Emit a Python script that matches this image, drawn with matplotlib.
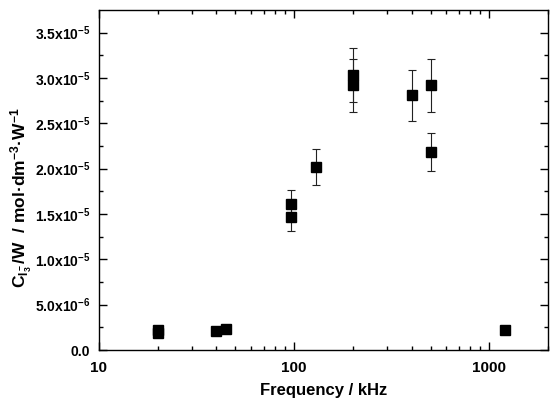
import numpy as np
import matplotlib
matplotlib.use("Agg")
import matplotlib.pyplot as plt
from matplotlib.ticker import FixedLocator, LogLocator, NullFormatter, FuncFormatter

# data (frequency in kHz, concentration per watt)
freq = [20, 20, 40, 45, 96, 96, 130, 200, 200, 400, 500, 500, 1200]
conc = [2.2e-6, 1.9e-6, 2.1e-6, 2.3e-6, 1.61e-5, 1.47e-5, 2.02e-5,
        3.03e-5, 2.92e-5, 2.81e-5, 2.92e-5, 2.18e-5, 2.2e-6]
err = [0, 0, 0, 0, 0.15e-5, 0.16e-5, 0.20e-5,
       0.30e-5, 0.29e-5, 0.28e-5, 0.29e-5, 0.21e-5, 0]

yticks = [0, 5e-6, 1e-5, 1.5e-5, 2e-5, 2.5e-5, 3e-5, 3.5e-5]
ytick_labels = ["0.0", r"5.0x10$^{-6}$", r"1.0x10$^{-5}$", r"1.5x10$^{-5}$",
                r"2.0x10$^{-5}$", r"2.5x10$^{-5}$", r"3.0x10$^{-5}$",
                r"3.5x10$^{-5}$"]

plt.rcParams["font.family"] = "Liberation Sans"
plt.rcParams["font.weight"] = "bold"
plt.rcParams["mathtext.fontset"] = "custom"
plt.rcParams["mathtext.rm"] = "Liberation Sans:bold"
plt.rcParams["mathtext.it"] = "Liberation Sans:bold"
plt.rcParams["mathtext.bf"] = "Liberation Sans:bold"
plt.rcParams["mathtext.default"] = "regular"

fig = plt.figure(figsize=(5.52, 4.0), dpi=100)
ax = fig.add_axes([0.179, 0.125, 0.814, 0.85])

for f, c, e in zip(freq, conc, err):
    if e > 0:
        ax.errorbar(f, c, yerr=e, fmt="none", ecolor="#222222",
                    elinewidth=0.8, capsize=3, capthick=0.8)
ax.plot(freq, conc, "s", color="black", markersize=7.3, zorder=3)

ax.set_xscale("log")
ax.set_xlim(10, 2000)
ax.set_ylim(0, 3.75e-5)

ax.xaxis.set_major_locator(FixedLocator([10, 100, 1000]))
ax.xaxis.set_major_formatter(FuncFormatter(lambda v, p: "%d" % v))
ax.xaxis.set_minor_locator(LogLocator(base=10, subs=np.arange(2, 10)))
ax.xaxis.set_minor_formatter(NullFormatter())

ax.set_yticks(yticks)
ax.set_yticklabels(ytick_labels)
ax.set_yticks(np.arange(2.5e-6, 3.75e-5, 5e-6), minor=True)

ax.tick_params(which="both", direction="in", top=True, right=True, width=1)
ax.tick_params(which="major", length=6)
ax.tick_params(which="minor", length=3)
ax.tick_params(axis="x", pad=8, labelsize=11)
ax.tick_params(axis="y", pad=6, labelsize=10)
for s in ax.spines.values():
    s.set_linewidth(1)

ax.set_xlabel("Frequency / kHz", fontsize=12, fontweight="bold", labelpad=6)
ax.set_ylabel("C$_{I_3^-}$/W  / mol\u00b7dm$^{-3}$\u00b7W$^{-1}$",
              fontsize=12.5, fontweight="bold")
ax.yaxis.set_label_coords(-0.145, 0.447)

fig.savefig("out.png", dpi=100)
